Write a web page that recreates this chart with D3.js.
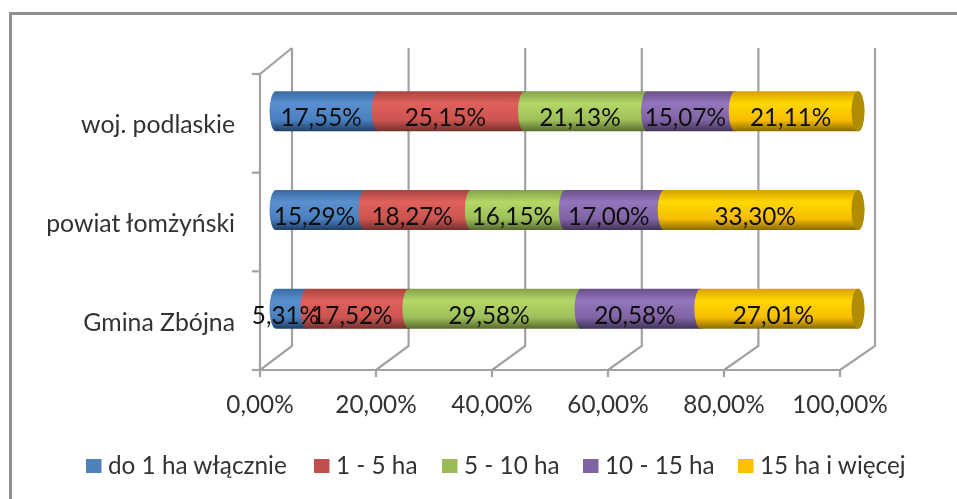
<!DOCTYPE html>
<html><head><meta charset="utf-8">
<script src="https://cdn.jsdelivr.net/npm/d3@7/dist/d3.min.js"></script>
<style>html,body{margin:0;padding:0;background:#fff}svg{display:block}text{font-family:Lato,"Open Sans",sans-serif}</style>
</head><body><div id="c"></div>
<script>
const categories = ["woj. podlaskie","powiat łomżyński","Gmina Zbójna"];
const seriesNames = ["do 1 ha włącznie","1 - 5 ha","5 - 10 ha","10 - 15 ha","15 ha i więcej"];
const v1 = [17.55,15.29,5.31];
const v2 = [25.15,18.27,17.52];
const v3 = [21.13,16.15,29.58];
const v4 = [15.07,17.00,20.58];
const v5 = [21.11,33.30,27.01];
const seriesValues = [v1,v2,v3,v4,v5];
const ticks = [0,20,40,60,80,100];
const colors = ["#4f81bd","#c0504d","#9bbb59","#8064a2","#ffc000"];
const grads = [
 ["#3a6aa3","#5a8fd0","#4a7fc0","#1f3f66"],
 ["#a84340","#e0605c","#cc5450","#71302e"],
 ["#83a04a","#b4d867","#9dbf5a","#566a2f"],
 ["#6a5088","#9475bd","#7f64a3","#43335a"],
 ["#d9a000","#ffd800","#f7bd00","#8a6a00"]
];
const fmt = v => v.toFixed(2).replace(".",",")+"%";
const W=957,H=499,fontSize=24.3,catFontSize=24.8;
const svg=d3.select("#c").append("svg").attr("width",W).attr("height",H);
const defs=svg.append("defs");
defs.append("filter").attr("id","soft").attr("x","-5%").attr("y","-5%").attr("width","110%").attr("height","110%")
  .append("feGaussianBlur").attr("stdDeviation",0.45);
grads.forEach((g,i)=>{
  const lg=defs.append("linearGradient").attr("id","g"+i).attr("x1",0).attr("x2",0).attr("y1",0).attr("y2",1);
  [0,0.3,0.72,1].forEach((o,k)=>lg.append("stop").attr("offset",o).attr("stop-color",g[k]));
});
const root=svg.append("g").attr("filter","url(#soft)");
function label(x,y,str,anchor,fill,size){
  return root.append("text").attr("x",x).attr("y",y)
    .attr("text-anchor",anchor).attr("font-size",size||fontSize).attr("fill",fill).text(str);
}
// frame
root.append("path").attr("d",`M10.5,499 V13.5 H957`).attr("fill","none").attr("stroke","#8f8f8f").attr("stroke-width",3);

const xFront=d3.scaleLinear().domain([0,100]).range([260,840]);
const xBack=d3.scaleLinear().domain([0,100]).range([292,875]);
const xBar=d3.scaleLinear().domain([0,100]).range([276,858]);
const yBand=d3.scaleBand().domain(categories).range([74,370]);
const floorY=370,backFloor=346,topBack=48,gridCol="#a2a2a2";
const axis=root.append("g").attr("fill","none").attr("stroke",gridCol).attr("stroke-width",2.2);
ticks.forEach(t=>{
  axis.append("path").attr("d",`M${xFront(t)},${floorY} L${xBack(t)},${backFloor} V${topBack}`);
  axis.append("line").attr("x1",xFront(t)).attr("x2",xFront(t)).attr("y1",floorY).attr("y2",floorY+7);
});
axis.append("line").attr("x1",xFront(0)).attr("x2",xFront(100)).attr("y1",floorY).attr("y2",floorY);
axis.append("path").attr("d",`M${xFront(0)},${floorY} V74 L${xBack(0)},${topBack}`);
[...categories,""].forEach((c,i)=>{
  const y=i<3?yBand(c):370;
  axis.append("line").attr("x1",252).attr("x2",260).attr("y1",y).attr("y2",y);
});
// bars
const barH=40,rx=6.5;
categories.forEach((c,ci)=>{
  const cy=yBand(c)+yBand.bandwidth()/2-12;
  const y0=cy-barH/2, y1=cy+barH/2, ry=barH/2;
  const g=root.append("g");
  let cum=0;
  seriesValues.forEach((s,si)=>{
    const a=xBar(cum), b=xBar(Math.min(100,cum+s[ci]));
    g.append("path").attr("d",`M${a},${y0} L${b},${y0} A${rx},${ry} 0 0 1 ${b},${y1} L${a},${y1} A${rx},${ry} 0 0 1 ${a},${y0} Z`)
     .attr("fill",`url(#g${si})`);
    cum+=s[ci];
  });
  g.append("ellipse").attr("cx",xBar(100)).attr("cy",cy).attr("rx",rx).attr("ry",ry).attr("fill","#b08c00");
  cum=0;
  seriesValues.forEach((s,si)=>{
    label(xBar(cum+s[ci]/2)-6,cy+15,fmt(s[ci]),"middle","#111");
    cum+=s[ci];
  });
  label(235,cy+22,c,"end","#333",catFontSize);
});
ticks.forEach(t=>{
  label(xFront(t),413,fmt(t),"middle","#333");
});
// legend
const legX=[86,314,442,583,738];
const legT=[108,336,464,605,760];
seriesNames.forEach((n,i)=>{
  root.append("rect").attr("x",legX[i]).attr("y",459).attr("width",15.5).attr("height",14).attr("fill",colors[i]);
  label(legT[i],474,n,"start","#333");
});
</script></body></html>
